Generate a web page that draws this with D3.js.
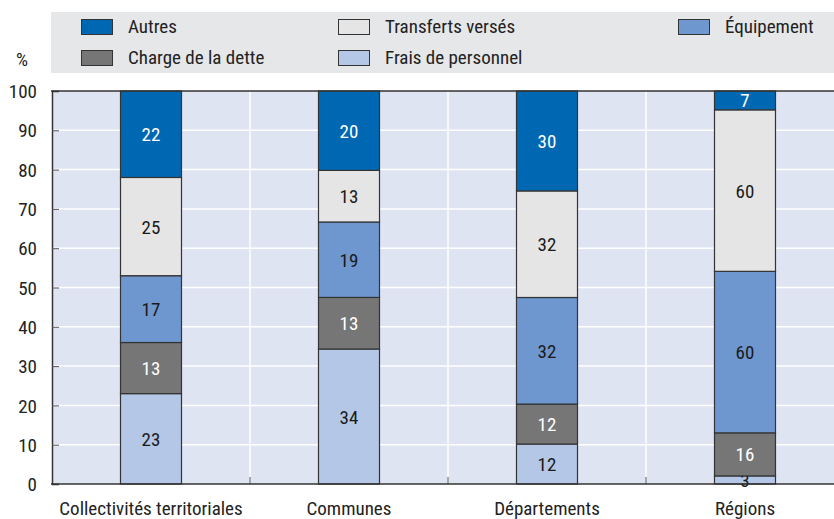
<!DOCTYPE html>
<html><head><meta charset="utf-8">
<script src="https://cdn.jsdelivr.net/npm/d3@7"></script>
<style>
body{margin:0;background:#fff;}
text{font-family:"Roboto Condensed","Liberation Sans Narrow",sans-serif;}
</style></head>
<body><svg id="c" width="834" height="519"></svg>
<script>
const categories = ["Collectivités territoriales","Communes","Départements","Régions"];
const seriesNames = ["Frais de personnel","Charge de la dette","Équipement","Transferts versés","Autres"];
const fraisPersonnel = [23,34,12,3];
const chargeDette = [13,13,12,16];
const equipement = [17,19,32,60];
const transferts = [25,13,32,60];
const autres = [22,20,30,7];
const yTicks = [0,10,20,30,40,50,60,70,80,90,100];
const colors = ["#b4c7e7","#767676","#6e97cf","#e5e5e5","#0068b2"];
const labelColors = ["#1a1a1a","#ffffff","#1a1a1a","#1a1a1a","#ffffff"];
const FONT = '"Roboto Condensed","Liberation Sans Narrow",sans-serif';
const FS = 19;

const svg = d3.select("#c");
const m = {left:52, top:91, bottom:484};
const plotRight = 844;
const x = d3.scaleBand().domain(categories).range([m.left, plotRight]).paddingInner(0).paddingOuter(0);
const y = d3.scaleLinear().domain([0,1]).range([m.bottom, m.top]);
const yPct = d3.scaleLinear().domain([0,100]).range([m.bottom, m.top]);

const rows = categories.map((c,i)=>({cat:c, s0:fraisPersonnel[i], s1:chargeDette[i], s2:equipement[i], s3:transferts[i], s4:autres[i]}));
const keys = ["s0","s1","s2","s3","s4"];
const stack = d3.stack().keys(keys).offset(d3.stackOffsetExpand)(rows);

// legend
svg.append("rect").attr("x",51).attr("y",12).attr("width",783).attr("height",61).attr("fill","#e6e7e9");
const legItems = [
  {s:4,col:0,row:0},{s:3,col:1,row:0},{s:2,col:2,row:0},
  {s:1,col:0,row:1},{s:0,col:1,row:1}
];
const colX = [81,338,678];
const rowY = [26,57];
legItems.forEach(d=>{
  const g = svg.append("g").attr("transform",`translate(${colX[d.col]},${rowY[d.row]})`);
  g.append("rect").attr("x",0.5).attr("y",-6.5).attr("width",31).attr("height",15).attr("fill",colors[d.s]).attr("stroke","#333").attr("stroke-width",1);
  g.append("text").attr("x",47).attr("y",6.5).attr("font-size",FS).attr("fill","#222").text(seriesNames[d.s]);
});
svg.append("text").attr("x",22).attr("y",66).attr("text-anchor","middle").attr("font-size",FS).attr("fill","#222").text("%");

// plot bg
svg.append("rect").attr("x",m.left).attr("y",m.top).attr("width",plotRight-m.left).attr("height",m.bottom-m.top).attr("fill","#dfe4f3");
// gridlines
svg.append("g").selectAll("line").data(yTicks.filter(t=>t>0&&t<100)).join("line")
  .attr("x1",m.left).attr("x2",plotRight).attr("y1",d=>yPct(d)).attr("y2",d=>yPct(d))
  .attr("stroke","#fff").attr("stroke-width",1.5);
// vertical separators
svg.append("g").selectAll("line").data(categories.slice(1)).join("line")
  .attr("x1",d=>x(d)).attr("x2",d=>x(d)).attr("y1",m.top).attr("y2",m.bottom)
  .attr("stroke","#fff").attr("stroke-width",1.5);
// small bottom ticks at separators
svg.append("g").selectAll("line").data(categories.slice(1)).join("line")
  .attr("x1",d=>x(d)).attr("x2",d=>x(d)).attr("y1",m.bottom-7).attr("y2",m.bottom)
  .attr("stroke","#555").attr("stroke-width",1);

// bars
const barW = 61;
const groups = svg.append("g").selectAll("g").data(stack).join("g");
groups.each(function(layer, li){
  const g = d3.select(this);
  g.selectAll("rect").data(layer).join("rect")
    .attr("x",d=>x(d.data.cat)+x.bandwidth()/2-barW/2)
    .attr("width",barW)
    .attr("y",d=>y(d[1]))
    .attr("height",d=>y(d[0])-y(d[1]))
    .attr("fill",colors[li]).attr("stroke","#333").attr("stroke-width",1.2);
  g.selectAll("text").data(layer).join("text")
    .attr("x",d=>x(d.data.cat)+x.bandwidth()/2)
    .attr("y",d=>(y(d[0])+y(d[1]))/2+7)
    .attr("text-anchor","middle").attr("font-size",FS)
    .attr("fill",labelColors[li])
    .text(d=>d.data[keys[li]]);
});

// axes
const yAxis = d3.axisLeft(yPct).tickValues(yTicks).tickSize(-7).tickPadding(15);
const ya = svg.append("g").attr("transform",`translate(${m.left},0)`).call(yAxis);
ya.select(".domain").attr("stroke","#333").attr("stroke-width",1.5);
ya.selectAll(".tick line").attr("stroke","#555");
ya.selectAll("text").attr("font-size",FS).attr("fill","#222").attr("font-family",FONT).attr("dy","0.35em");
ya.selectAll(".tick").filter(d=>d===0||d===100).select("line").remove();

svg.append("line").attr("x1",m.left-1).attr("x2",plotRight).attr("y1",m.bottom).attr("y2",m.bottom).attr("stroke","#333").attr("stroke-width",1.5);
svg.append("line").attr("x1",m.left-1).attr("x2",plotRight).attr("y1",m.top).attr("y2",m.top).attr("stroke","#333").attr("stroke-width",1.5);

const xa = svg.append("g").attr("transform",`translate(0,${m.bottom})`).call(d3.axisBottom(x).tickSize(0).tickPadding(18));
xa.select(".domain").remove();
xa.selectAll("text").attr("font-size",FS).attr("fill","#222").attr("font-family",FONT);
</script></body></html>
